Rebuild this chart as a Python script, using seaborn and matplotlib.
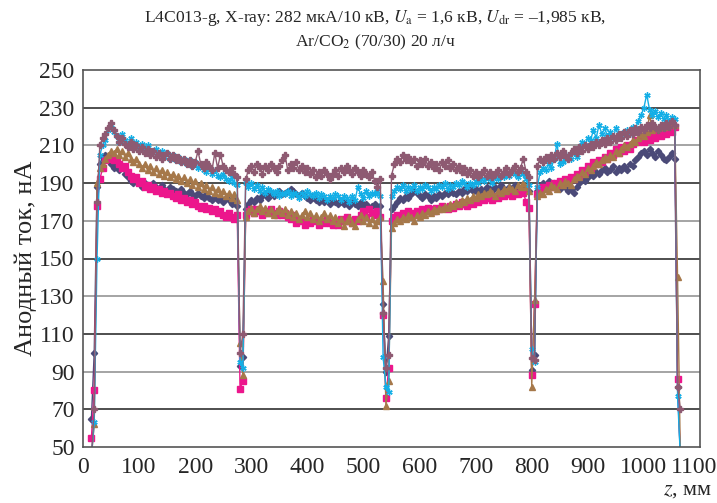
import numpy as np
import pandas as pd
import matplotlib
matplotlib.use("Agg")
import matplotlib.pyplot as plt
import matplotlib.transforms as mtransforms
import seaborn as sns
from matplotlib.ticker import MultipleLocator

# ── Data ──────────────────────────────────────────────────────────────────────
# scan position, mm (measurement grid, 5 mm step)
Z_MM = np.arange(15, 1070, 5)

# anode current, nA; segments: start | 30-275 | dip 280 | 290-530 | dip 540 |
# 550-795 | dip 800 | 810-1055 | end
NAVY = (
    [65, 100, 188]
    + [200, 204, 205, 203, 200, 198, 201, 197, 199, 195, 193, 191, 190, 192, 190, 188, 190, 189, 188, 190,
       188, 187, 189, 187, 186, 188, 187, 186, 185, 187, 185, 184, 186, 184, 183, 185, 183, 182, 184, 182,
       181, 183, 181, 182, 180, 182, 181, 179, 181, 178]
    + [93, 98]
    + [176, 179, 181, 180, 182, 181, 183, 184, 182, 185, 183, 184, 186, 184, 185, 186, 187, 186, 184, 183,
       185, 183, 182, 181, 183, 181, 180, 182, 180, 181, 179, 181, 180, 179, 181, 179, 180, 178, 180, 179,
       178, 180, 178, 179, 177, 178, 179, 177, 178]
    + [126, 90, 109]
    + [176, 178, 180, 182, 181, 183, 182, 184, 186, 185, 183, 182, 184, 183, 181, 183, 182, 184, 183, 185,
       184, 186, 185, 184, 186, 185, 187, 186, 188, 186, 187, 185, 187, 186, 188, 187, 186, 188, 187, 189,
       187, 186, 188, 187, 189, 187, 186, 188, 187, 186]
    + [91, 99]
    + [186, 188, 190, 189, 191, 189, 190, 188, 187, 189, 188, 186, 187, 185, 188, 190, 192, 191, 193, 195,
       194, 196, 195, 197, 198, 196, 197, 199, 196, 198, 197, 199, 197, 200, 199, 202, 204, 206, 207, 205,
       208, 206, 204, 207, 205, 203, 202, 204, 206, 203]
    + [82, 45]
)

MAGENTA = (
    [55, 80, 178]
    + [192, 198, 202, 203, 204, 202, 203, 200, 198, 199, 196, 194, 192, 193, 190, 191, 188, 189, 187, 188,
       186, 187, 185, 186, 184, 185, 183, 182, 184, 181, 182, 180, 181, 179, 180, 178, 177, 178, 176, 177,
       175, 176, 174, 175, 173, 172, 174, 172, 171, 173]
    + [81, 85]
    + [173, 175, 176, 174, 176, 175, 173, 175, 174, 176, 174, 173, 175, 173, 174, 172, 171, 173, 169, 171,
       170, 168, 170, 169, 171, 170, 168, 170, 169, 171, 169, 168, 170, 168, 171, 170, 172, 170, 169, 171,
       170, 173, 175, 172, 176, 174, 173, 175, 172]
    + [120, 76, 92]
    + [170, 172, 173, 172, 174, 173, 175, 174, 173, 175, 174, 176, 175, 177, 176, 175, 177, 176, 178, 177,
       176, 178, 177, 179, 178, 180, 179, 178, 180, 179, 181, 180, 182, 181, 183, 182, 181, 183, 182, 184,
       183, 185, 184, 183, 185, 184, 186, 185, 180, 177]
    + [88, 126]
    + [184, 186, 188, 187, 189, 188, 190, 189, 191, 190, 192, 191, 193, 192, 195, 194, 197, 196, 199, 198,
       201, 200, 202, 201, 204, 203, 206, 205, 208, 206, 209, 207, 210, 208, 211, 213, 212, 214, 212, 215,
       213, 216, 214, 217, 215, 218, 216, 219, 217, 220]
    + [86, 45]
)

BROWN = (
    [45, 62, 190]
    + [198, 200, 203, 205, 207, 206, 208, 205, 207, 204, 206, 203, 201, 203, 200, 198, 200, 197, 199, 196,
       198, 195, 197, 194, 196, 193, 195, 192, 194, 191, 193, 190, 192, 189, 191, 188, 190, 187, 189, 186,
       188, 185, 187, 184, 186, 183, 185, 182, 184, 181]
    + [105, 88]
    + [172, 175, 177, 174, 176, 178, 175, 177, 174, 176, 173, 175, 177, 174, 176, 173, 175, 172, 174, 171,
       173, 175, 172, 174, 171, 173, 170, 172, 174, 171, 173, 170, 172, 169, 171, 167, 170, 172, 169, 167,
       171, 173, 170, 172, 169, 171, 168, 170, 172]
    + [138, 72, 85]
    + [166, 169, 171, 170, 172, 171, 173, 172, 170, 173, 172, 174, 173, 175, 174, 176, 175, 177, 176, 178,
       177, 179, 178, 180, 179, 181, 180, 182, 181, 183, 182, 184, 183, 185, 184, 186, 185, 183, 186, 185,
       187, 186, 188, 187, 186, 189, 188, 190, 188, 186]
    + [82, 128]
    + [183, 185, 184, 187, 186, 189, 188, 187, 190, 189, 191, 190, 189, 192, 194, 193, 196, 195, 198, 197,
       199, 201, 200, 202, 204, 203, 205, 204, 207, 206, 208, 210, 209, 211, 213, 212, 214, 216, 215, 217,
       226, 218, 220, 219, 221, 220, 222, 221, 223, 221]
    + [140, 45]
)

CYAN = (
    [45, 63, 150]
    + [205, 210, 213, 218, 221, 217, 215, 212, 216, 213, 211, 214, 210, 212, 209, 211, 208, 210, 207, 206,
       208, 205, 207, 204, 206, 203, 205, 202, 204, 201, 203, 200, 202, 199, 201, 198, 200, 197, 196, 198,
       195, 197, 194, 193, 195, 192, 191, 193, 190, 189]
    + [95, 92]
    + [190, 188, 190, 187, 189, 186, 188, 185, 187, 186, 184, 186, 183, 185, 184, 186, 183, 185, 184, 182,
       185, 183, 186, 184, 183, 185, 182, 184, 183, 181, 183, 182, 184, 183, 181, 183, 182, 180, 183, 181,
       188, 184, 182, 186, 183, 185, 184, 186, 183]
    + [98, 82, 79]
    + [183, 186, 188, 187, 189, 186, 188, 187, 189, 186, 188, 187, 189, 188, 186, 188, 187, 189, 188, 190,
       187, 189, 188, 190, 189, 191, 190, 188, 190, 189, 191, 190, 192, 191, 193, 192, 190, 193, 192, 194,
       193, 195, 194, 196, 195, 193, 196, 195, 192, 189]
    + [102, 95]
    + [188, 196, 198, 197, 200, 198, 203, 211, 200, 201, 203, 205, 203, 206, 204, 207, 212, 210, 214, 213,
       218, 214, 221, 216, 219, 215, 217, 214, 219, 215, 216, 217, 218, 216, 220, 219, 223, 226, 230, 237,
       229, 226, 228, 225, 227, 224, 226, 223, 225, 224]
    + [77, 45]
)

MAUVE = (
    [45, 70, 180]
    + [210, 214, 216, 219, 222, 218, 215, 212, 214, 211, 209, 212, 208, 210, 207, 209, 206, 208, 205, 207,
       204, 206, 203, 205, 206, 203, 205, 202, 204, 201, 203, 200, 202, 199, 201, 207, 200, 198, 201, 199,
       197, 206, 198, 205, 199, 197, 196, 198, 195, 193]
    + [100, 110]
    + [192, 197, 199, 196, 200, 198, 195, 199, 197, 200, 198, 196, 199, 202, 205, 197, 200, 198, 201, 197,
       199, 196, 198, 195, 197, 193, 196, 194, 197, 195, 192, 195, 197, 194, 198, 196, 199, 197, 195, 198,
       196, 194, 197, 195, 193, 196, 191, 188, 192]
    + [121, 92, 99]
    + [194, 200, 203, 201, 205, 202, 204, 201, 203, 199, 202, 200, 203, 199, 201, 198, 200, 197, 201, 199,
       202, 198, 200, 197, 199, 196, 198, 195, 197, 194, 196, 193, 195, 197, 194, 196, 193, 195, 197, 194,
       196, 198, 195, 197, 199, 196, 198, 203, 196, 193]
    + [97, 96]
    + [199, 203, 201, 204, 202, 205, 203, 206, 204, 207, 205, 203, 206, 208, 206, 209, 207, 210, 208, 211,
       209, 212, 210, 213, 211, 214, 212, 215, 213, 216, 214, 217, 215, 218, 216, 219, 217, 220, 218, 221,
       219, 222, 220, 218, 221, 219, 222, 220, 223, 221]
    + [82, 70]
)

SERIES = ["navy", "magenta", "brown", "cyan", "mauve"]
VALUES = [NAVY, MAGENTA, BROWN, CYAN, MAUVE]
COLORS = ["#4B4A78", "#EC168C", "#A6784A", "#13AEE6", "#8E5A72"]
MARKERS = ["D", "s", "^", (6, 2, 0), "P"]
MSIZES = [3.2, 3.8, 4.0, 4.5, 4.0]

X_TICKS = list(range(0, 1101, 100))
Y_TICKS = list(range(50, 251, 20))

TITLE = ("L4C013-g, X-ray: 282 мкА/10 кВ, $U_\\mathrm{a}$ = 1,6 кВ, "
         "$U_\\mathrm{dr}$ = –1,985 кВ,\nAr/CO$_2$ (70/30) 20 л/ч")

# ── Plot ──────────────────────────────────────────────────────────────────────
sns.set_theme(style="white")
plt.rcParams["font.family"] = ["Liberation Serif", "DejaVu Serif"]
plt.rcParams["mathtext.fontset"] = "stix"

fig = plt.figure(figsize=(7.17, 5.03), dpi=100)
ax = fig.add_axes([83 / 717, 1 - 447 / 503, 617 / 717, 377 / 503])

for name, vals, col, mk, ms in zip(SERIES, VALUES, COLORS, MARKERS, MSIZES):
    assert len(vals) == len(Z_MM), (name, len(vals))
    df = pd.DataFrame({"z": Z_MM, "I": vals})
    sns.lineplot(data=df, x="z", y="I", ax=ax, color=col, marker=mk,
                 markersize=ms, markeredgewidth=1.0, markeredgecolor=col,
                 linewidth=1.0, estimator=None, sort=False)

ax.set_xlim(0, 1100)
ax.set_ylim(50, 250)
ax.set_xticks(X_TICKS)
ax.set_yticks(Y_TICKS)
ax.xaxis.set_minor_locator(MultipleLocator(20))
ax.yaxis.set_minor_locator(MultipleLocator(4))

# grid lines alternate dark / grey in the source scan
for i, y in enumerate(Y_TICKS[1:-1]):
    gcol = "#1e1e1e" if i % 2 == 0 else "#8c8c8c"
    ax.axhline(y, color=gcol, linewidth=1.1, zorder=0)

ax.tick_params(axis="both", which="major", direction="out", length=5,
               width=1, labelsize=17, color="#333333")
ax.tick_params(axis="both", which="minor", direction="out", length=3,
               width=0.8, color="#333333")
ax.tick_params(axis="x", pad=2)
ax.tick_params(axis="y", pad=1)
for sp in ax.spines.values():
    sp.set_color("#555555")
    sp.set_linewidth(1.2)

# last x label nudged left so it stays inside the figure
last = ax.get_xticklabels()[-1]
last.set_transform(last.get_transform()
                   + mtransforms.ScaledTranslation(-6 / 100, 0, fig.dpi_scale_trans))

ax.set_xlabel("")
ax.set_ylabel("Анодный ток, нА", fontsize=19, labelpad=2)
fig.text(712 / 717, 1 - 490 / 503, "$z$, мм", ha="right", va="center", fontsize=16)
fig.text(375 / 717, 1 - 30 / 503, TITLE, ha="center", va="center",
         fontsize=12.6, linespacing=1.3)

fig.savefig("out.png", dpi=100)
